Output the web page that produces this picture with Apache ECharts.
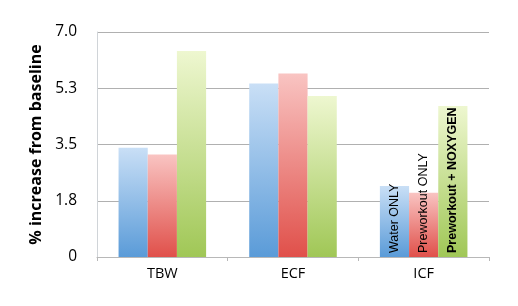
<!DOCTYPE html>
<html><head><meta charset="utf-8">
<script src="https://cdn.jsdelivr.net/npm/echarts@6/dist/echarts.min.js"></script>
<style>html,body{margin:0;padding:0;background:#fff}#c{width:518px;height:306px}</style>
</head><body><div id="c"></div>
<script>
const categories = ['TBW', 'ECF', 'ICF'];
const seriesNames = ['Water ONLY', 'Preworkout ONLY', 'Preworkout + NOXYGEN'];
const waterOnly = [3.40, 5.40, 2.21];
const preworkoutOnly = [3.19, 5.71, 2.00];
const preworkoutNoxygen = [6.41, 5.01, 4.70];
const yTickValues = [0, 1.75, 3.5, 5.25, 7];
const labelledCategory = 'ICF';

const allValues = [waterOnly, preworkoutOnly, preworkoutNoxygen];
const grads = [
  ['#c9dff6', '#5a9bd8'],
  ['#f9c4c2', '#e0504a'],
  ['#eef7d0', '#a0c756']
];
const bold = [false, false, true];
const font = '"Open Sans", "Liberation Sans", sans-serif';

const series = allValues.map((vals, si) => ({
  name: seriesNames[si],
  type: 'bar',
  barGap: '0%',
  barCategoryGap: '33%',
  itemStyle: {
    color: new echarts.graphic.LinearGradient(0, 0, 0, 1, [
      {offset: 0, color: grads[si][0]},
      {offset: 1, color: grads[si][1]}
    ])
  },
  data: vals.map((v, i) => ({
    value: v,
    label: {
      show: categories[i] === labelledCategory,
      position: 'insideBottom',
      rotate: 90,
      align: 'left',
      verticalAlign: 'middle',
      distance: 4,
      formatter: seriesNames[si],
      color: '#000',
      fontSize: 12.5,
      fontWeight: bold[si] ? 'bold' : 'normal',
      fontFamily: '"Liberation Sans", Arial, sans-serif'
    }
  }))
}));

const chart = echarts.init(document.getElementById('c'), null, {renderer: 'canvas'});
chart.setOption({
  animation: false,
  backgroundColor: '#fff',
  grid: {left: 97, right: 29, top: 32, bottom: 49},
  xAxis: {
    type: 'category',
    data: categories,
    axisLine: {lineStyle: {color: '#b8b8b8'}},
    axisTick: {show: true, length: 4, lineStyle: {color: '#b8b8b8'}},
    axisLabel: {color: '#000', fontSize: 14.5, fontFamily: font, margin: 9}
  },
  yAxis: {
    type: 'value',
    min: yTickValues[0],
    max: yTickValues[yTickValues.length - 1],
    interval: yTickValues[1] - yTickValues[0],
    name: '% increase from baseline',
    nameLocation: 'middle',
    nameGap: 52,
    nameTextStyle: {color: '#000', fontSize: 16, fontWeight: 'bold', fontFamily: font},
    axisLine: {show: true, lineStyle: {color: '#d0d4d8'}},
    axisTick: {show: false},
    splitLine: {lineStyle: {color: '#b0b0b0'}},
    axisLabel: {
      color: '#000', fontSize: 15.5, fontFamily: font, margin: 20,
      formatter: v => v === 0 ? '0' : v.toFixed(1)
    }
  },
  series: series
});
</script></body></html>
